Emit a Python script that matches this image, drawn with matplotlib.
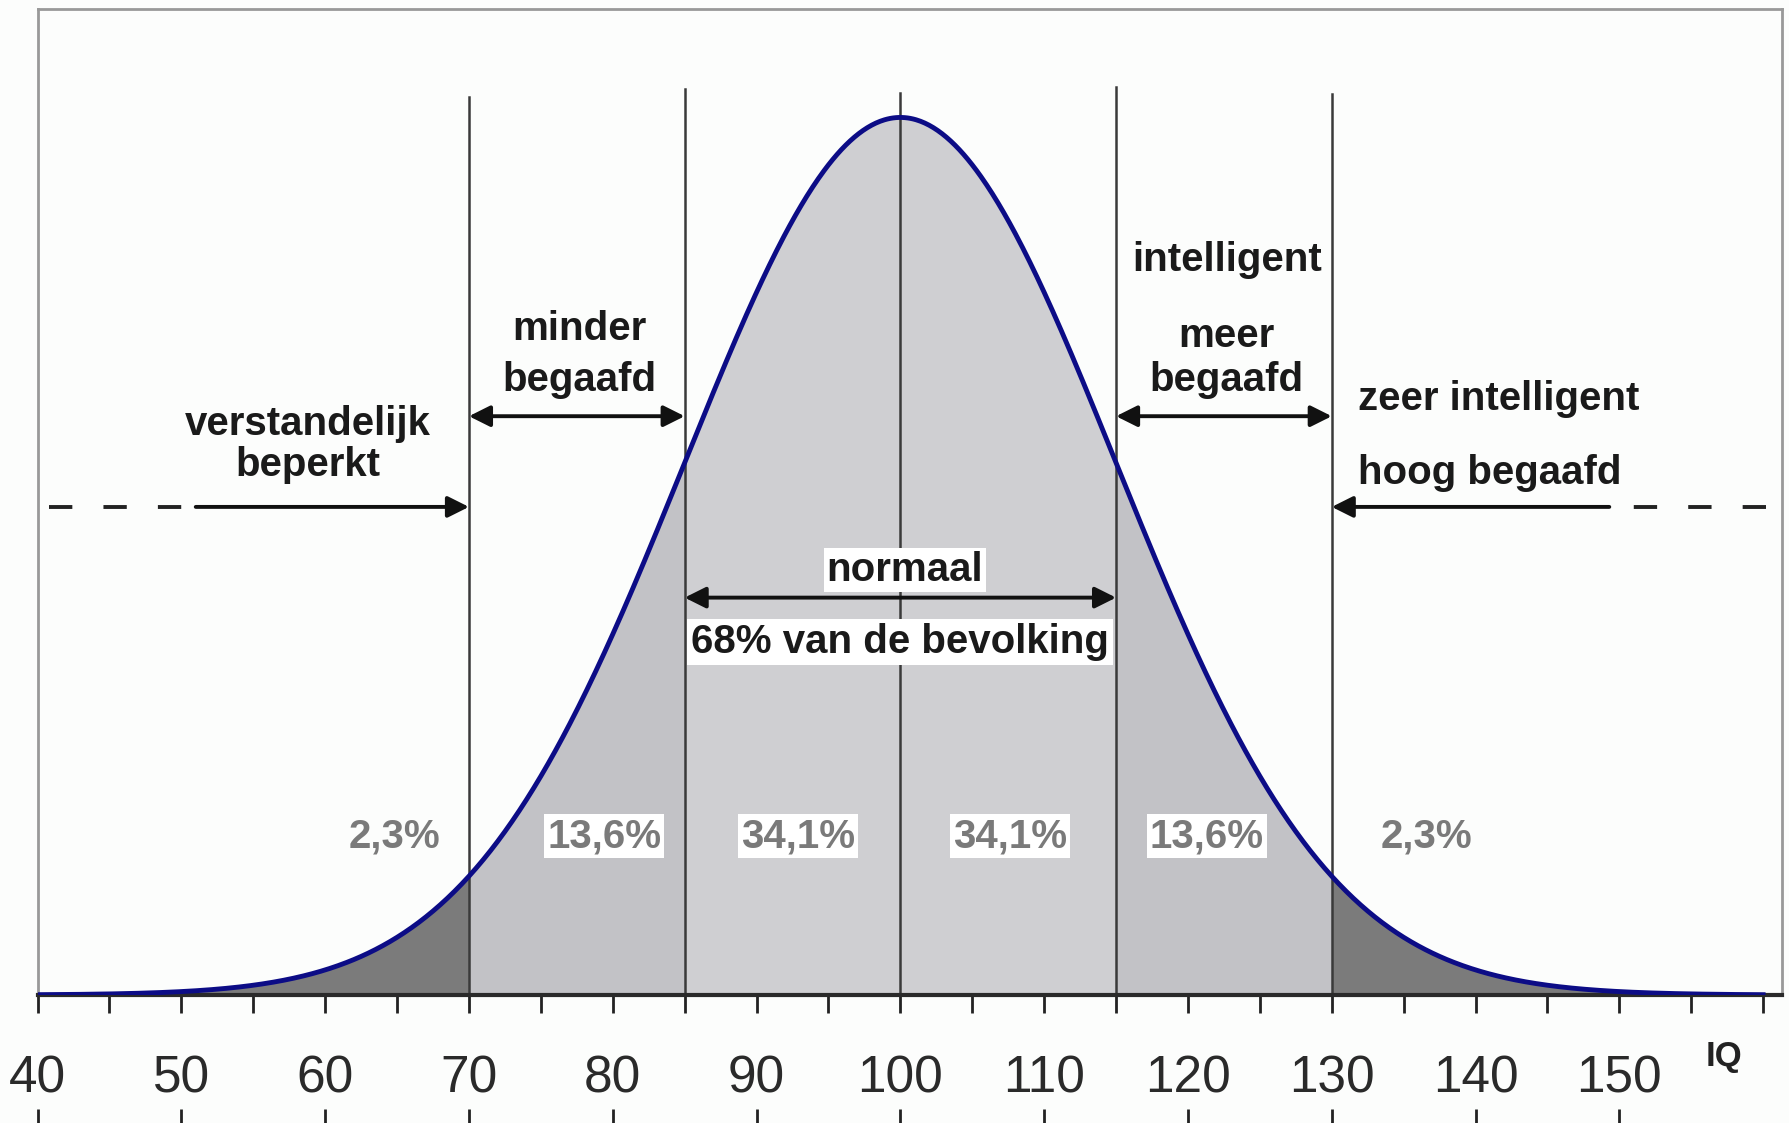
import numpy as np
import matplotlib
matplotlib.use('Agg')
import matplotlib.pyplot as plt
from matplotlib import font_manager

# IQ-verdeling (normaalverdeling), grenzen en percentages
iq_mean = 100
iq_sd = 15
grenzen = [40, 70, 85, 115, 130, 160]
percentages = ['2,3%', '13,6%', '34,1%', '34,1%', '13,6%', '2,3%']
tick_waarden = [40, 50, 60, 70, 80, 90, 100, 110, 120, 130, 140, 150, 160]
tick_labels = ['40', '50', '60', '70', '80', '90', '100', '110', '120', '130', '140', '150', '']
lijnen = [70, 85, 100, 115, 130]

beschikbaar = {f.name for f in font_manager.fontManager.ttflist}
smal = 'Liberation Sans Narrow' if 'Liberation Sans Narrow' in beschikbaar else 'Liberation Sans'
plt.rcParams['font.family'] = ['Liberation Sans', 'DejaVu Sans']

x = np.linspace(grenzen[0], grenzen[-1], 1201)
y = np.exp(-0.5 * ((x - iq_mean) / iq_sd) ** 2) / (iq_sd * np.sqrt(2 * np.pi))
piek = y.max()
ytop = piek / 0.89

fig = plt.figure(figsize=(17.89, 11.23), dpi=100)
fig.patch.set_facecolor('#fcfdfc')
ax = fig.add_axes([0.021, 0.114, 0.975, 0.878])
ax.set_facecolor('#fcfdfc')
ax.set_xlim(40, 161.3)
ax.set_ylim(0, ytop)

# vlakken onder de curve
kleuren = ['#7b7b7b', '#c2c2c6', '#cfcfd2', '#cfcfd2', '#c2c2c6', '#7b7b7b']
snijpunten = [40, 70, 85, 100, 115, 130, 160]
for i in range(6):
    m = (x >= snijpunten[i]) & (x <= snijpunten[i + 1])
    ax.fill_between(x[m], 0, y[m], color=kleuren[i], lw=0, zorder=1)

# verticale lijnen
toppen = [0.911, 0.919, 0.915, 0.921, 0.914]
for xv, t in zip(lijnen, toppen):
    ax.plot([xv, xv], [0, t * ytop], color='#3a3a3a', lw=1.8, zorder=2)

ax.plot(x, y, color='#0c0c86', lw=3.5, zorder=4)

# frame
for s in ['left', 'top', 'right']:
    ax.spines[s].set_color('#999999')
    ax.spines[s].set_linewidth(2)
ax.spines['bottom'].set_color('#2a2a2a')
ax.spines['bottom'].set_linewidth(3)
ax.set_yticks([])
ax.set_xticks(tick_waarden)
ax.set_xticklabels(tick_labels, fontfamily=smal, fontsize=37, color='#2a2a2a')
ax.set_xticks(np.arange(45, 160, 10), minor=True)
ax.tick_params(axis='x', which='both', direction='out', length=13, width=2, color='#222222', pad=30)

# afgesneden tweede as onderaan
sec = ax.secondary_xaxis(-0.13)
sec.set_xticks(tick_waarden[:-1])
sec.set_xticklabels([])
sec.spines['bottom'].set_visible(False)
sec.tick_params(axis='x', direction='in', length=10, width=2, color='#222222')

ax.text(157.3, -0.062 * ytop, 'IQ', fontsize=25, fontweight='bold', ha='center', va='center',
        color='#222222')

lbl = dict(fontsize=29, fontweight='bold', color='#1a1a1a', ha='center', va='center', zorder=6)

def pijl(x1, x2, yf, stijl):
    ax.annotate('', xy=(x2, yf * ytop), xytext=(x1, yf * ytop),
                arrowprops=dict(arrowstyle=stijl, mutation_scale=32, lw=2.8, color='#111111',
                                shrinkA=0, shrinkB=0), zorder=6)

# links
ax.text(58.8, 0.579 * ytop, 'verstandelijk', **lbl)
ax.text(58.8, 0.537 * ytop, 'beperkt', **lbl)
ax.plot([40.8, 50.5], [0.495 * ytop] * 2, color='#222222', lw=2.8, ls=(0, (6, 8)))
pijl(51.0, 70, 0.495, '-|>')

ax.text(77.7, 0.675 * ytop, 'minder', **lbl)
ax.text(77.7, 0.624 * ytop, 'begaafd', **lbl)
pijl(70, 85, 0.587, '<|-|>')

# rechts
ax.text(122.7, 0.745 * ytop, 'intelligent', **lbl)
ax.text(122.7, 0.668 * ytop, 'meer', **lbl)
ax.text(122.7, 0.624 * ytop, 'begaafd', **lbl)
pijl(115, 130, 0.587, '<|-|>')

ax.text(131.8, 0.604 * ytop, 'zeer intelligent', **dict(lbl, ha='left'))
ax.text(131.8, 0.529 * ytop, 'hoog begaafd', **dict(lbl, ha='left'))
pijl(149.3, 130, 0.495, '-|>')
ax.plot([160.2, 150.5], [0.495 * ytop] * 2, color='#222222', lw=2.8, ls=(0, (6, 8)))

# midden
ax.text(100.3, 0.431 * ytop, 'normaal',
        bbox=dict(facecolor='white', edgecolor='none', pad=2), **lbl)
pijl(85, 115, 0.403, '<|-|>')
ax.text(100, 0.358 * ytop, '68% van de bevolking',
        bbox=dict(facecolor='white', edgecolor='none', pad=3), **lbl)

# percentages
pct_x = [64.8, 79.4, 92.9, 107.6, 121.3, 136.6]
for i, (px, p) in enumerate(zip(pct_x, percentages)):
    kader = None if i in (0, 5) else dict(facecolor='white', edgecolor='none', pad=2)
    ax.text(px, 0.161 * ytop, p, fontfamily=smal, fontsize=29, fontweight='bold',
            color='#7a7a7a', ha='center', va='center', bbox=kader, zorder=6)

fig.savefig('out.png', dpi=100, facecolor=fig.get_facecolor())
